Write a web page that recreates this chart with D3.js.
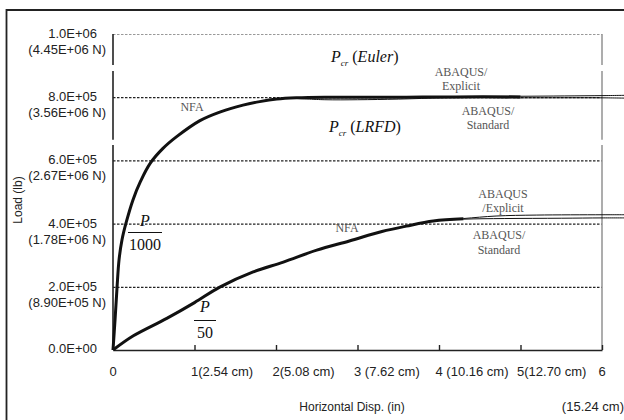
<!DOCTYPE html>
<html>
<head>
<meta charset="utf-8">
<script src="https://cdn.jsdelivr.net/npm/d3@7"></script>
<style>
  body { margin: 0; background: #fff; }
  text { font-family: "Liberation Sans", Arial, sans-serif; }
  .serif { font-family: "Liberation Serif", "Times New Roman", serif; }
</style>
</head>
<body>
<div id="the_board"></div>
<script>
// tick values and labels
var loadTicks = [0, 200000, 400000, 600000, 800000, 1000000];
var loadLabels = ["0.0E+00", "2.0E+05", "4.0E+05", "6.0E+05", "8.0E+05", "1.0E+06"];
var loadLabelsN = ["", "(8.90E+05 N)", "(1.78E+06 N)", "(2.67E+06 N)", "(3.56E+06 N)", "(4.45E+06 N)"];
var dispTicks = [0, 1, 2, 3, 4, 5, 6];
var dispLabels = ["0", "1(2.54 cm)", "2(5.08 cm)", "3 (7.62 cm)", "4 (10.16 cm)", "5(12.70 cm)", "6"];
var dispLabelLast = "(15.24 cm)";

// P/1000 curves
var nfa1000X = [0, 0.025, 0.05, 0.074, 0.11, 0.16, 0.245, 0.34, 0.454, 0.613, 0.785, 1.067, 1.31, 1.595, 1.80, 2.01, 2.25, 2.6, 3.0, 3.6, 4.2, 5.0];
var nfa1000Y = [0, 95000, 200000, 285000, 348000, 402000, 475000, 535000, 590000, 638000, 676000, 726000, 753000, 775000, 786000, 794000, 798000, 800000, 800000, 800000, 801000, 801000];
var expl1000X = [2.25, 3.0, 4.0, 5.0, 6.0, 6.3];
var expl1000Y = [798000, 801000, 802000, 803000, 805000, 806000];
var std1000X = [2.25, 2.6, 3.0, 3.5, 4.1, 5.0, 6.0, 6.3];
var std1000Y = [796000, 792000, 792000, 794000, 798000, 798000, 798000, 797000];

// P/50 curves
var nfa50X = [0, 0.25, 0.66, 1.0, 1.31, 1.72, 2.09, 2.5, 2.9, 3.3, 3.6, 3.93, 4.3];
var nfa50Y = [0, 45000, 100000, 150000, 199000, 247000, 278000, 316000, 345000, 375000, 392000, 408000, 415000];
var expl50X = [3.93, 4.3, 4.7, 5.2, 6.0, 6.3];
var expl50Y = [408000, 416000, 424000, 427000, 428000, 428000];
var std50X = [3.93, 4.3, 4.8, 5.5, 6.0, 6.3];
var std50Y = [408000, 414000, 416000, 417000, 418000, 418000];

// breaks in the vertical axes
var axisSegments = [[0, 649000], [665000, 883000], [902000, 1000000]];

var width_board = 624, height_board = 420;

var svg_board = d3.select("#the_board")
  .append("svg")
  .attr("width", width_board)
  .attr("height", height_board);

// outer frame (open at right and bottom)
svg_board.append("path")
  .attr("d", "M6.5,420 L6.5,10 L624,10")
  .attr("fill", "none")
  .attr("stroke", "#222")
  .attr("stroke-width", 1.8);

var x = d3.scaleLinear().domain([0, 6]).range([113, 602]);
var y = d3.scaleLinear().domain([0, 1000000]).range([350, 34]);

// dotted grid lines
svg_board.selectAll(".grid")
  .data(loadTicks.slice(1))
  .enter()
  .append("line")
  .attr("x1", x(0))
  .attr("x2", x(6))
  .attr("y1", function(d) { return y(d) + 0.5; })
  .attr("y2", function(d) { return y(d) + 0.5; })
  .attr("stroke", function(d) { return d == 1000000 ? "#999" : "#222"; })
  .attr("stroke-width", 1.2)
  .attr("stroke-dasharray", "2.5,1.5");

// left (black) and right (grey) axes with breaks
svg_board.selectAll(".leftseg")
  .data(axisSegments)
  .enter()
  .append("line")
  .attr("x1", x(0)).attr("x2", x(0))
  .attr("y1", function(d) { return y(d[0]); })
  .attr("y2", function(d) { return y(d[1]); })
  .attr("stroke", "#222")
  .attr("stroke-width", 1.6);

svg_board.selectAll(".rightseg")
  .data(axisSegments)
  .enter()
  .append("line")
  .attr("x1", x(6)).attr("x2", x(6))
  .attr("y1", function(d) { return y(d[0]); })
  .attr("y2", function(d) { return y(d[1]); })
  .attr("stroke", "#999")
  .attr("stroke-width", 1.6);

// bottom axis, ticks pointing up
var xAxis = svg_board.append("g")
  .attr("transform", "translate(0," + y(0) + ")")
  .call(d3.axisBottom(x).tickValues(dispTicks.slice(1)).tickSizeInner(-5).tickSizeOuter(0).tickFormat(""));
xAxis.select(".domain").attr("stroke", "#222").attr("stroke-width", 1.6);
xAxis.selectAll(".tick line").attr("stroke", "#222").attr("stroke-width", 1.4);

// y labels
var yl = svg_board.selectAll(".ylab")
  .data(loadTicks)
  .enter()
  .append("g");
yl.append("text")
  .attr("x", 97)
  .attr("y", function(d, i) { return y(d) + (i == 0 ? 3 : 4); })
  .attr("text-anchor", "end")
  .style("font-size", "13px")
  .attr("fill", "#222")
  .text(function(d, i) { return loadLabels[i]; });
yl.append("text")
  .attr("x", 106)
  .attr("y", function(d) { return y(d) + 20; })
  .attr("text-anchor", "end")
  .style("font-size", "13px")
  .attr("fill", "#222")
  .text(function(d, i) { return loadLabelsN[i]; });

// x labels
svg_board.selectAll(".xlab")
  .data(dispTicks)
  .enter()
  .append("text")
  .attr("x", function(d) { return d == 0 ? x(d) : x(d) - 3.5; })
  .attr("y", 376)
  .attr("text-anchor", function(d) { return d == 0 ? "middle" : "start"; })
  .style("font-size", "13px")
  .attr("fill", "#222")
  .text(function(d, i) { return dispLabels[i]; });
svg_board.append("text")
  .attr("x", 624)
  .attr("y", 411)
  .attr("text-anchor", "end")
  .style("font-size", "13px")
  .attr("fill", "#222")
  .text(dispLabelLast);

// axis titles
svg_board.append("text")
  .attr("x", 352)
  .attr("y", 411)
  .attr("text-anchor", "middle")
  .style("font-size", "12px")
  .attr("fill", "#222")
  .text("Horizontal Disp. (in)");
svg_board.append("text")
  .attr("transform", "translate(22,200) rotate(-90)")
  .attr("text-anchor", "middle")
  .style("font-size", "12px")
  .attr("fill", "#222")
  .text("Load (lb)");

// curves
var line = d3.line()
  .x(function(d) { return x(d[0]); })
  .y(function(d) { return y(d[1]); })
  .curve(d3.curveCatmullRom.alpha(0.5));

function drawCurve(xs, ys, w) {
  svg_board.append("path")
    .datum(d3.zip(xs, ys))
    .attr("d", line)
    .attr("fill", "none")
    .attr("stroke", "#111")
    .attr("stroke-width", w)
    .attr("stroke-linejoin", "round");
}
drawCurve(std1000X, std1000Y, 1);
drawCurve(expl1000X, expl1000Y, 1);
drawCurve(nfa1000X, nfa1000Y, 3);
drawCurve(std50X, std50Y, 1);
drawCurve(expl50X, expl50Y, 1);
drawCurve(nfa50X, nfa50Y, 3);

// annotations
function note(tx, ty, str, size, anchor, color) {
  svg_board.append("text")
    .attr("class", "serif")
    .attr("x", tx)
    .attr("y", ty)
    .attr("text-anchor", anchor || "middle")
    .style("font-size", size + "px")
    .attr("fill", color || "#555")
    .text(str);
}
note(192, 111, "NFA", 12);
note(347, 232, "NFA", 12);
note(461, 76, "ABAQUS/", 12);
note(461, 90, "Explicit", 12);
note(488, 115, "ABAQUS/", 12);
note(488, 129, "Standard", 12);
note(503, 198, "ABAQUS", 12);
note(503, 212, "/Explicit", 12);
note(499, 239, "ABAQUS/", 12);
note(499, 254, "Standard", 12);

function pcr(tx, ty, label) {
  var t = svg_board.append("text")
    .attr("class", "serif")
    .attr("x", tx)
    .attr("y", ty)
    .style("font-size", "16px")
    .attr("fill", "#111");
  t.append("tspan").style("font-style", "italic").text("P");
  t.append("tspan").style("font-style", "italic").style("font-size", "9px").attr("dy", 4).text("cr");
  t.append("tspan").attr("dy", -4).text(" (");
  t.append("tspan").style("font-style", "italic").text(label);
  t.append("tspan").text(")");
}
pcr(331, 62, "Euler");
pcr(329, 132, "LRFD");

function frac(cx, topY, barY, botY, half, den) {
  svg_board.append("text").attr("class", "serif")
    .attr("x", cx).attr("y", topY).attr("text-anchor", "middle")
    .style("font-size", "16px").style("font-style", "italic").attr("fill", "#111").text("P");
  svg_board.append("line")
    .attr("x1", cx - half).attr("x2", cx + half)
    .attr("y1", barY).attr("y2", barY)
    .attr("stroke", "#111").attr("stroke-width", 1);
  svg_board.append("text").attr("class", "serif")
    .attr("x", cx).attr("y", botY).attr("text-anchor", "middle")
    .style("font-size", "16px").attr("fill", "#111").text(den);
}
frac(145, 226, 232.5, 250, 17, "1000");
frac(205, 312, 320.5, 338, 11, "50");
</script>
</body>
</html>
